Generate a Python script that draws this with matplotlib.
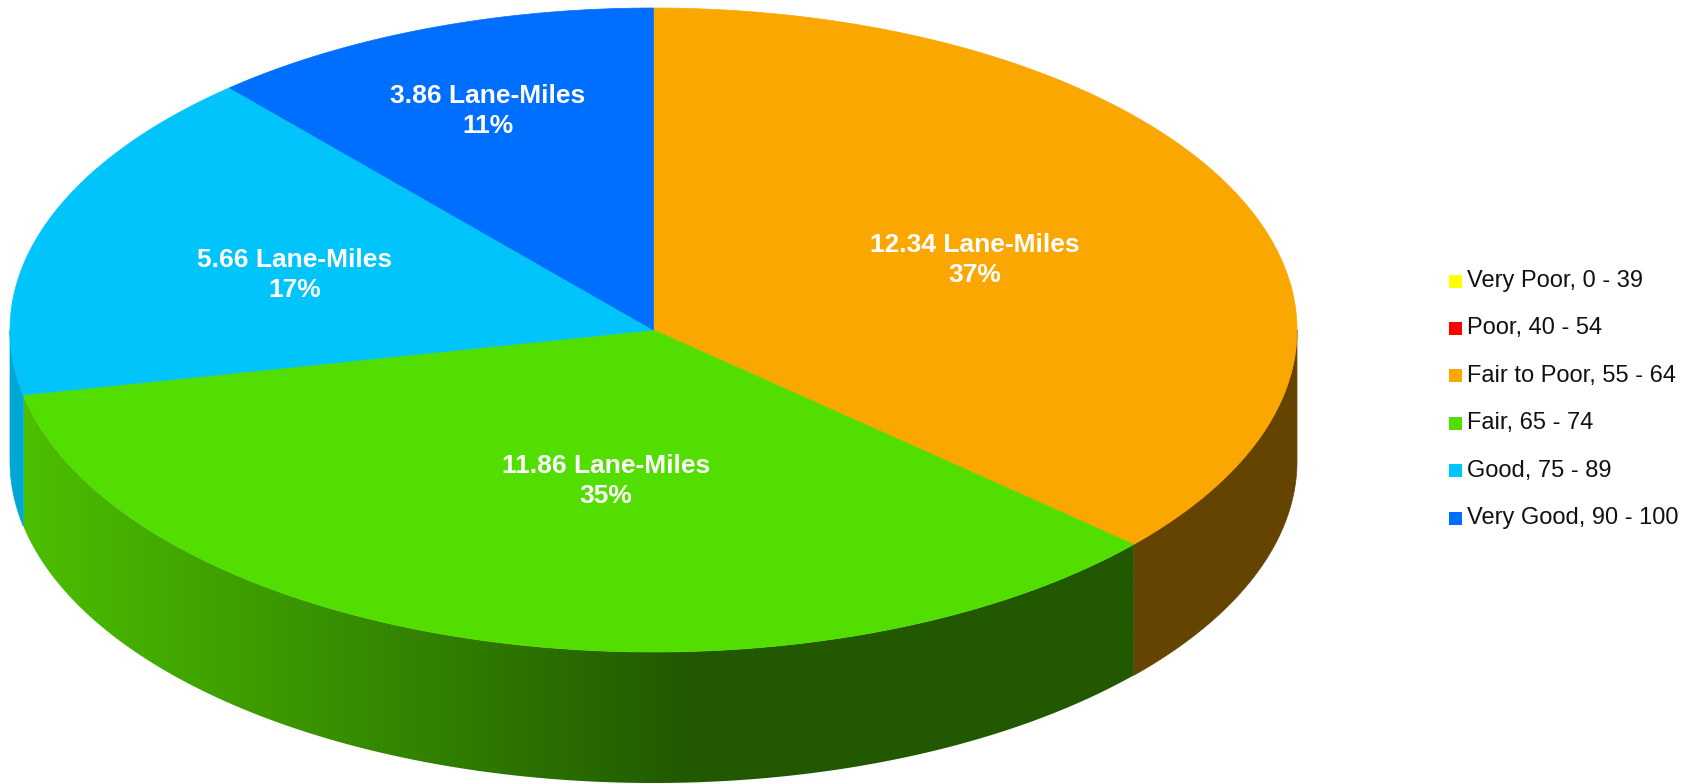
# 3D-style pie of lane-miles by pavement condition

import numpy as np
import matplotlib
matplotlib.use('Agg')
import matplotlib.pyplot as plt
from matplotlib.patches import Polygon, Rectangle
from matplotlib.colors import to_rgb

categories = ['Very Poor, 0 - 39', 'Poor, 40 - 54', 'Fair to Poor, 55 - 64',
              'Fair, 65 - 74', 'Good, 75 - 89', 'Very Good, 90 - 100']
lane_miles = [0, 0, 12.34, 11.86, 5.66, 3.86]
top_colors = ['#FFFF00', '#FF0000', '#FBA702', '#52DE00', '#00C4FA', '#006FFF']
side_colors = ['#999900', '#990000', '#654300', None, '#00A6D6', '#0050B8']

# layout (pixels of the 1690x784 canvas)
cx, cy, rx, ry, depth = 653.5, 330, 643.5, 322, 131
label_xy = {2: (975, 260), 3: (606, 481), 4: (295, 275), 5: (488, 111)}


def ell(theta, drop=0):
    # theta in degrees, clockwise from 12 o'clock
    t = np.radians(theta)
    return np.column_stack([cx + rx * np.sin(t), cy - ry * np.cos(t) + drop])


def green_gradient(n=400):
    x = np.linspace(0, 1690, n)
    c0, c1 = np.array(to_rgb('#4CC000')), np.array(to_rgb('#215800'))
    f = np.clip((x - 20) / (690 - 20), 0, 1)[:, None]
    return (c0 * (1 - f) + c1 * f)[None, :, :]


fig = plt.figure(figsize=(16.9, 7.84), dpi=100)
ax = fig.add_axes([0, 0, 1, 1])

total = sum(lane_miles)
start = 0.0
slices = []
for i, v in enumerate(lane_miles):
    span = v / total * 360
    slices.append((i, start, start + span))
    start += span

# side walls (front half only: 90..270 deg)
for i, a, b in slices:
    lo, hi = max(a, 90), min(b, 270)
    if hi <= lo:
        continue
    th = np.linspace(lo, hi, 200)
    pts = np.vstack([ell(th), ell(th[::-1], depth)])
    if side_colors[i] is None:
        poly = Polygon(pts, closed=True, facecolor='none', edgecolor='none')
        ax.add_patch(poly)
        im = ax.imshow(green_gradient(), extent=[0, 1690, 790, 300],
                       aspect='auto', interpolation='bilinear', zorder=1)
        im.set_clip_path(poly)
    else:
        ax.add_patch(Polygon(pts, closed=True, facecolor=side_colors[i],
                             edgecolor=side_colors[i], lw=0.5, zorder=1))

# top surface
for i, a, b in slices:
    if b - a <= 0:
        continue
    th = np.linspace(a, b, 300)
    pts = np.vstack([[cx, cy], ell(th)])
    ax.add_patch(Polygon(pts, closed=True, facecolor=top_colors[i],
                         edgecolor=top_colors[i], lw=0.5, zorder=2))

# data labels
for i, v in enumerate(lane_miles):
    if v <= 0:
        continue
    x, y = label_xy[i]
    ax.text(x, y, f'{v:.2f} Lane-Miles\n{round(v / total * 100)}%',
            ha='center', va='center', color='white', fontsize=19,
            fontweight='bold', family='Liberation Sans', linespacing=1.35,
            zorder=3)

# legend
for k, name in enumerate(categories):
    y = 281 + k * 47.4
    ax.add_patch(Rectangle((1449, y - 6.5), 13, 13, facecolor=top_colors[k],
                           edgecolor='none', zorder=3))
    ax.text(1467, y, name, ha='left', va='center', fontsize=17,
            family='Liberation Sans', color='#111111')

ax.set_xlim(0, 1690)
ax.set_ylim(784, 0)
ax.axis('off')

fig.savefig('out.png', dpi=100)
